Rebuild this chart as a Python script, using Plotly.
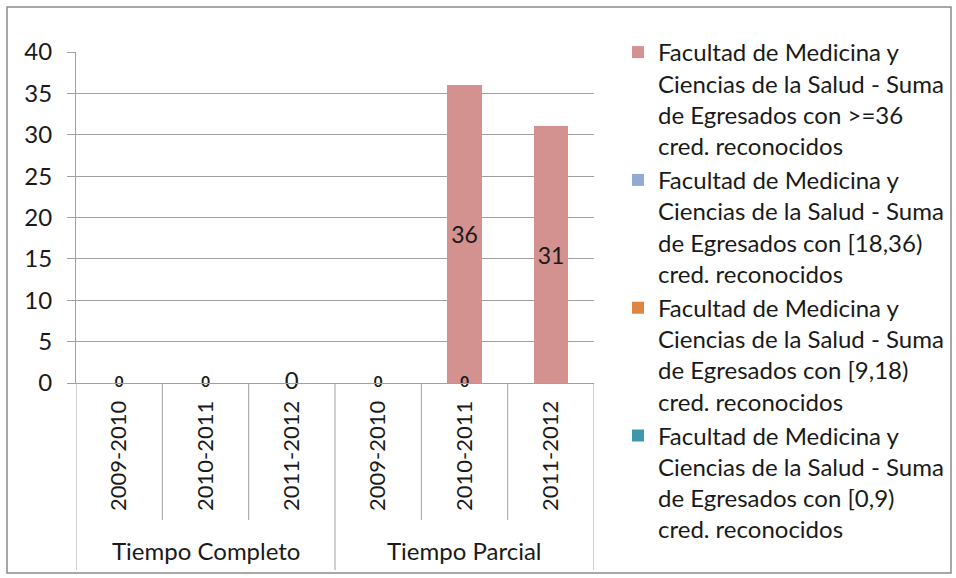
import plotly.graph_objects as go

# data
groups = ["Tiempo Completo"] * 3 + ["Tiempo Parcial"] * 3
years = ["2009-2010", "2010-2011", "2011-2012", "2009-2010", "2010-2011", "2011-2012"]

serie_36 = [None, None, 0, None, 36, 31]
serie_18_36 = [0, 0, None, 0, 0, None]
serie_9_18 = [0, 0, None, 0, 0, None]
serie_0_9 = [0, 0, None, 0, 0, None]

nombres = [
    "Facultad de Medicina y<br>Ciencias de la Salud - Suma<br>de Egresados con >=36<br>cred. reconocidos",
    "Facultad de Medicina y<br>Ciencias de la Salud - Suma<br>de Egresados con [18,36)<br>cred. reconocidos",
    "Facultad de Medicina y<br>Ciencias de la Salud - Suma<br>de Egresados con [9,18)<br>cred. reconocidos",
    "Facultad de Medicina y<br>Ciencias de la Salud - Suma<br>de Egresados con [0,9)<br>cred. reconocidos",
]
colores = ["#D39190", "#93A8D3", "#E0853F", "#3F97AD"]

FONT = "Lato"
TXT = "#1a1a1a"
GRIS = "#A0A0A0"
xs = list(range(len(years)))

W, H = 956, 578
L, T, R, B = 76, 52, 362, 195
pw, ph = W - L - R, H - T - B


def px_x(x):
    return (x - L) / pw


def px_y(y):
    return (H - B - y) / ph


fig = go.Figure()
for vals, nom, col in zip([serie_36, serie_18_36, serie_9_18, serie_0_9], nombres, colores):
    fig.add_trace(go.Bar(
        x=xs, y=[v if v else None for v in vals], name=nom,
        marker=dict(color=col, line=dict(width=0)),
        width=0.4,
        text=[str(v) if v else "" for v in vals],
        textposition="inside", insidetextanchor="middle", textangle=0,
        textfont=dict(family=FONT, size=23, color=TXT),
    ))

# etiquetas de ceros
z_small = [i for i in xs if serie_18_36[i] == 0]
z_big = [i for i in xs if serie_36[i] == 0]
fig.add_trace(go.Scatter(x=z_small, y=[0] * len(z_small), mode="text", text=["<b>0</b>"] * len(z_small),
                         textfont=dict(family=FONT, size=15, color=TXT), cliponaxis=False,
                         showlegend=False, hoverinfo="skip"))
fig.add_trace(go.Scatter(x=z_big, y=[0] * len(z_big), mode="text", text=["0"] * len(z_big),
                         textfont=dict(family=FONT, size=24, color=TXT), cliponaxis=False,
                         showlegend=False, hoverinfo="skip"))

# separadores del eje x
shapes = []
for i in range(len(xs) + 1):
    b = i - 0.5
    outer = i == 0 or i == len(xs) or groups[i - 1] != groups[i]
    shapes.append(dict(type="line", xref="x", yref="paper", x0=b, x1=b, y0=0,
                       y1=px_y(570) if outer else px_y(520), line=dict(color=GRIS, width=1)))
# marco
shapes.append(dict(type="rect", xref="paper", yref="paper", x0=px_x(7), x1=px_x(951), y0=px_y(573),
                   y1=px_y(7), line=dict(color="#8C8C8C", width=1.5)))

# etiquetas de grupo
annots = []
for g in dict.fromkeys(groups):
    idx = [i for i, gg in enumerate(groups) if gg == g]
    annots.append(dict(x=sum(idx) / len(idx), y=px_y(550), xref="x", yref="paper", text=g, showarrow=False,
                       font=dict(family=FONT, size=24, color=TXT), yanchor="middle"))

fig.update_layout(
    width=W, height=H,
    margin=dict(l=L, r=R, t=T, b=B, autoexpand=False),
    paper_bgcolor="white", plot_bgcolor="white",
    barmode="relative", bargap=0,
    font=dict(family=FONT, color=TXT),
    shapes=shapes, annotations=annots,
    legend=dict(x=px_x(618), y=px_y(30), xanchor="left", yanchor="top", valign="top",
                bgcolor="rgba(0,0,0,0)",
                font=dict(family=FONT, size=24, color=TXT), tracegroupgap=0, maxheight=560),
    xaxis=dict(range=[-0.5, 5.5], tickvals=xs, ticktext=years, tickangle=-90, ticks="",
               ticklabelstandoff=8,
               tickfont=dict(family=FONT, size=22, color=TXT), showgrid=False,
               showline=True, linecolor=GRIS, linewidth=1, zeroline=False),
    yaxis=dict(range=[0, 40], dtick=5, showgrid=True, gridcolor=GRIS, gridwidth=1,
               ticks="outside", ticklen=8, tickcolor=GRIS, showline=True, linecolor=GRIS,
               ticklabelstandoff=10,
               tickfont=dict(family=FONT, size=24, color=TXT), zeroline=False),
)

# sin margen del body, para que la figura ocupe la ventana justa
fig.write_html("out.html", config={"displayModeBar": False},
               post_script="document.body.style.margin='0';document.body.style.overflow='hidden';")
